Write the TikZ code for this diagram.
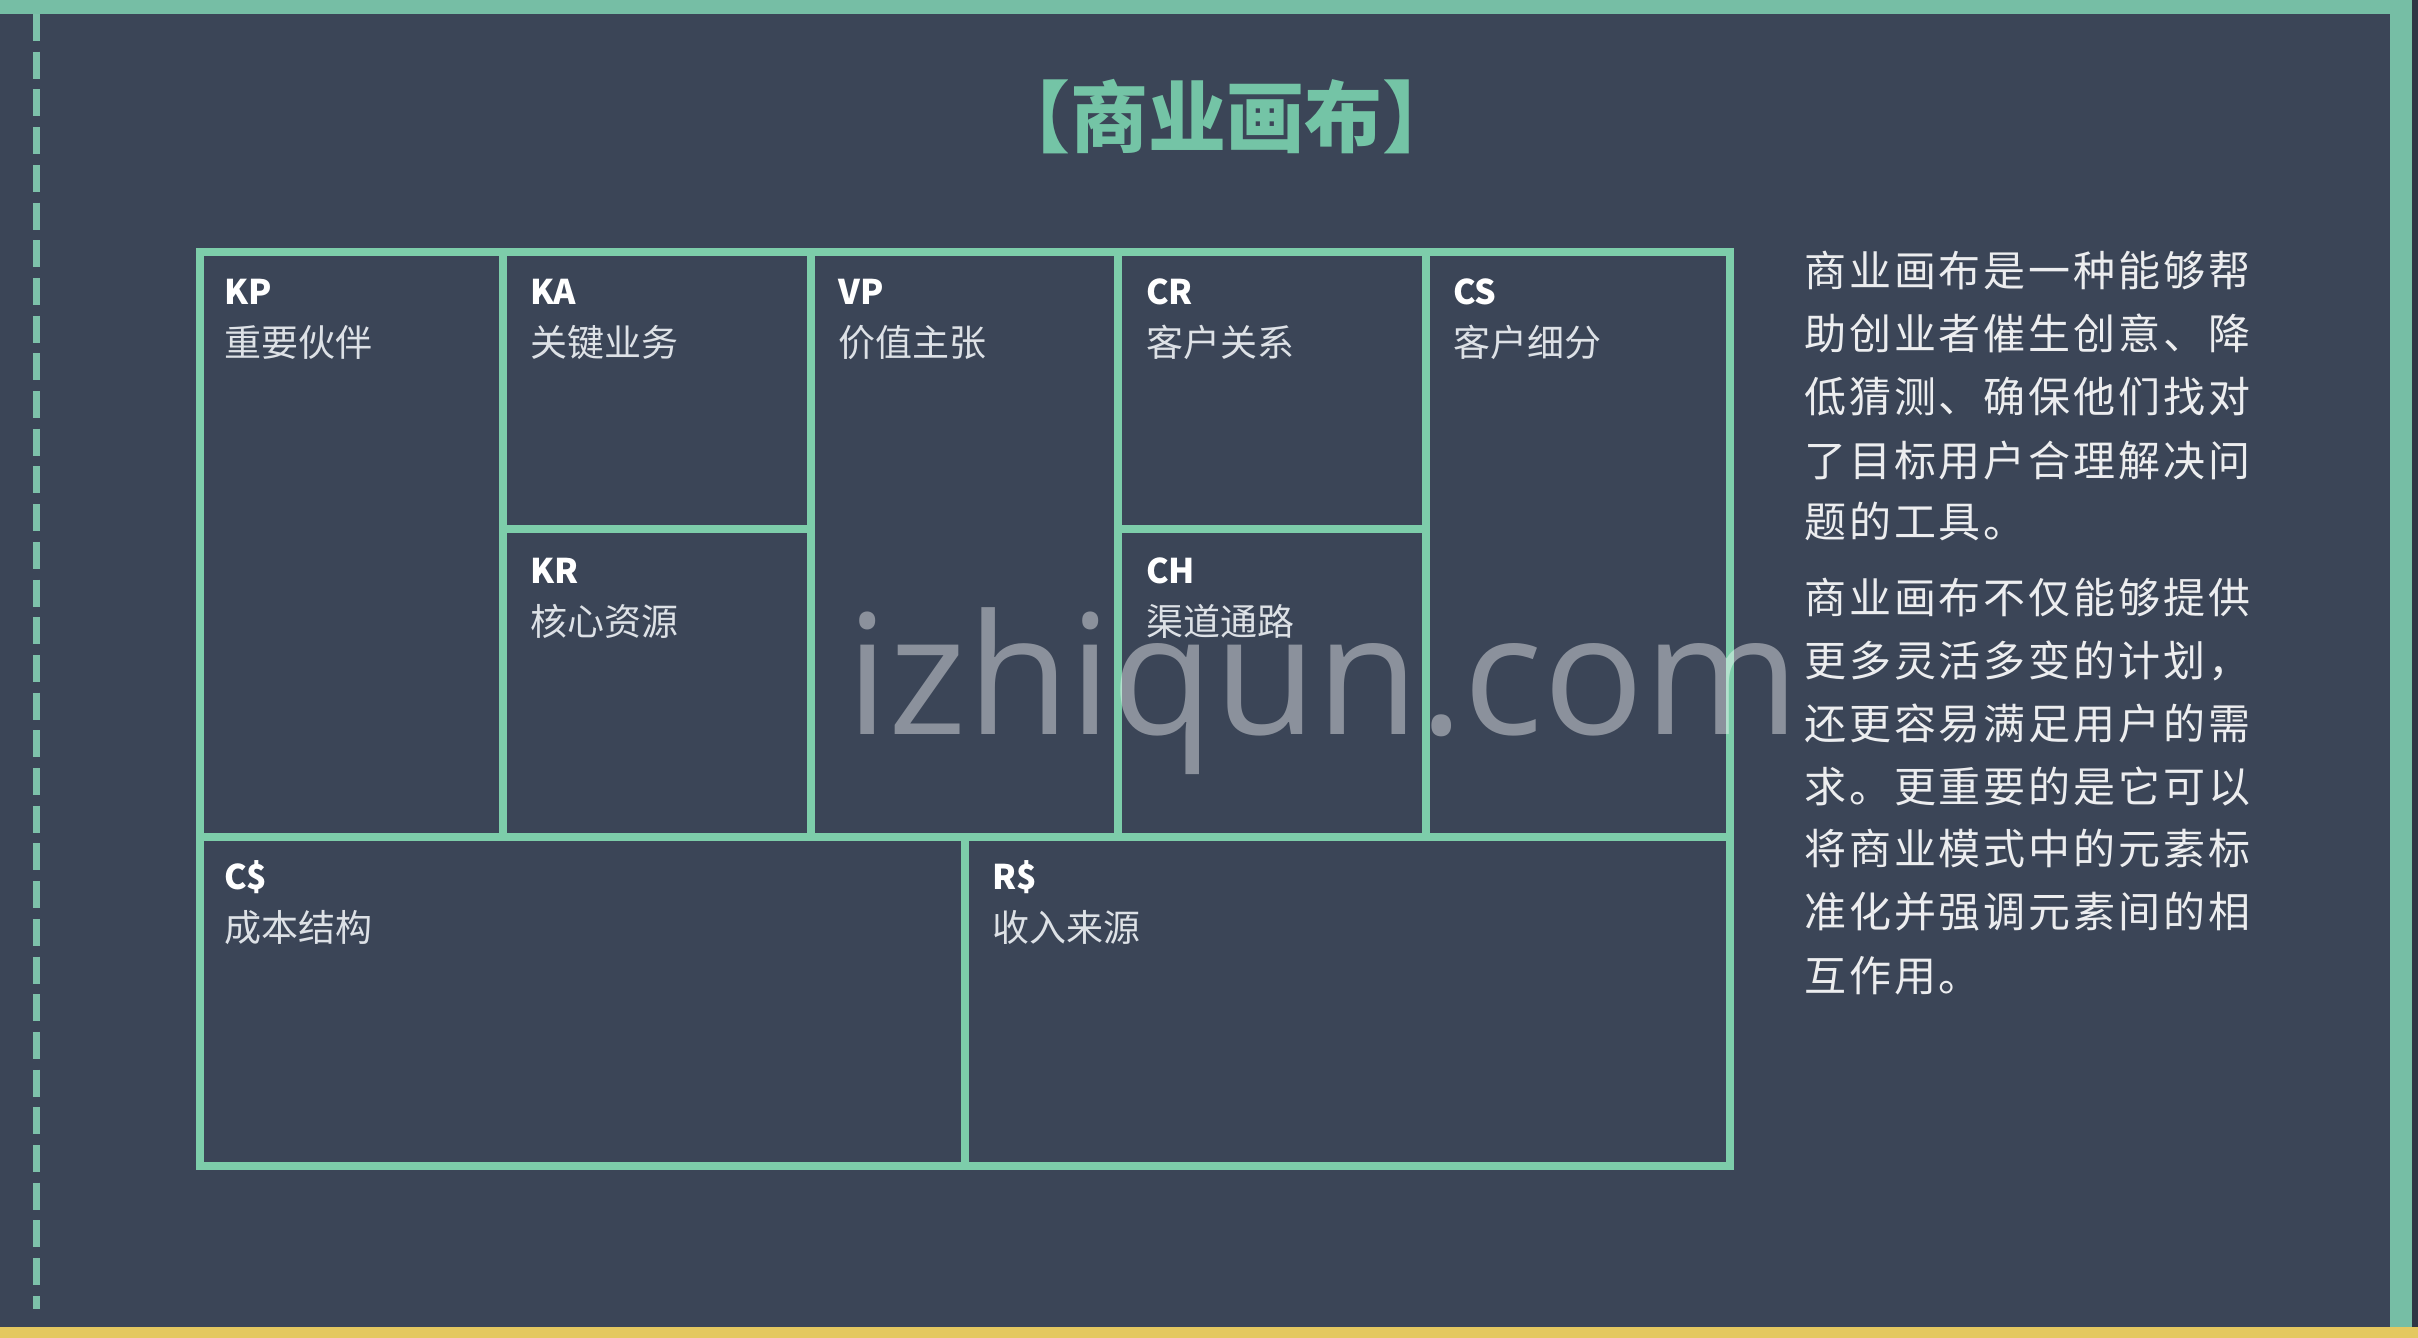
\documentclass[tikz,border=0pt]{standalone}
\usepackage{fontspec}
\newfontfamily\cjk{Noto Sans CJK SC}
\newfontfamily\cjkp[LetterSpace=7]{Noto Sans CJK SC}
\newfontfamily\wmfont{Open Sans}
\definecolor{bg}{HTML}{3B4557}
\definecolor{band}{HTML}{76BEA5}
\definecolor{gridc}{HTML}{7DCDAA}
\definecolor{goldbar}{HTML}{E4C860}
\definecolor{edge}{HTML}{2E3644}
\definecolor{titlec}{HTML}{74C4A6}
\definecolor{lbl}{HTML}{DDE1E6}
\definecolor{para}{HTML}{ECEDEF}
\tikzset{
  gridline/.style={draw=gridc, line width=8pt, line cap=rect},
  code/.style={anchor=base west, inner sep=0pt, text=white, font=\cjk\bfseries\fontsize{34}{34}\selectfont},
  cname/.style={anchor=base west, inner sep=0pt, text=lbl, font=\cjk\fontsize{37}{37}\selectfont},
  pline/.style={anchor=base west, inner sep=0pt, text=para, font=\cjkp\fontsize{42}{42}\selectfont},
}
\begin{document}
\begin{tikzpicture}[x=1pt,y=-1pt]
\useasboundingbox (0,0) rectangle (2418,1338);
% background and frame
\fill[bg] (0,0) rectangle (2418,1338);
\fill[edge] (2412,0) rectangle (2418,1338);
\fill[band] (0,0) rectangle (2412,14);
\fill[band] (2390,0) rectangle (2412,1327);
\fill[fill=goldbar] (0,1327) rectangle (2418,1338);
\draw[band!95!white, line width=7pt, dash pattern=on 27pt off 10.7pt] (36,14) -- (36,1309);
% title
\node[anchor=base, inner sep=0pt, text=titlec, font=\cjk\bfseries\fontsize{78}{78}\selectfont] (title) at (1226,146) {【商业画布】};
% grid
\draw[gridline] (200,252) rectangle (1730,1166);
\draw[gridline] (200,837) -- (1730,837);
\draw[gridline] (503,252) -- (503,837);
\draw[gridline] (811,252) -- (811,837);
\draw[gridline] (1118,252) -- (1118,837);
\draw[gridline] (1426,252) -- (1426,837);
\draw[gridline] (503,529) -- (811,529);
\draw[gridline] (1118,529) -- (1426,529);
\draw[gridline] (965,837) -- (965,1166);
% cell labels
\node[code] (kp) at (224,304) {KP};   \node[cname] (kpn) at (224,356) {重要伙伴};
\node[code] (ka) at (530,304) {KA};   \node[cname] (kan) at (530,356) {关键业务};
\node[code] (kr) at (530,583) {KR};   \node[cname] (krn) at (530,635) {核心资源};
\node[code] (vp) at (838,304) {VP};   \node[cname] (vpn) at (838,356) {价值主张};
\node[code] (cr) at (1146,304) {CR};  \node[cname] (crn) at (1146,356) {客户关系};
\node[code] (ch) at (1146,583) {CH};  \node[cname] (chn) at (1146,635) {渠道通路};
\node[code] (cs) at (1453,304) {CS};  \node[cname] (csn) at (1453,356) {客户细分};
\node[code] (cc) at (224,889) {C\$};  \node[cname] (ccn) at (224,941) {成本结构};
\node[code] (rr) at (992,889) {R\$};  \node[cname] (rrn) at (992,941) {收入来源};
% paragraph text
\node[pline] (p1) at (1804,286) {商业画布是一种能够帮};
\node[pline] (p2) at (1804,349) {助创业者催生创意、降};
\node[pline] (p3) at (1804,412) {低猜测、确保他们找对};
\node[pline] (p4) at (1804,476) {了目标用户合理解决问};
\node[pline] (p5) at (1804,537) {题的工具。};
\node[pline] (q1) at (1804,613) {商业画布不仅能够提供};
\node[pline] (q2) at (1804,676) {更多灵活多变的计划，};
\node[pline] (q3) at (1804,739) {还更容易满足用户的需};
\node[pline] (q4) at (1804,802) {求。更重要的是它可以};
\node[pline] (q5) at (1804,864) {将商业模式中的元素标};
\node[pline] (q6) at (1804,927) {准化并强调元素间的相};
\node[pline] (q7) at (1804,991) {互作用。};
% watermark
\node[anchor=base, inner sep=0pt, text=white, text opacity=0.41, font=\wmfont\fontsize{167}{167}\selectfont] (wm) at (1323,734) {izhiqun.com};
\end{tikzpicture}
\end{document}
